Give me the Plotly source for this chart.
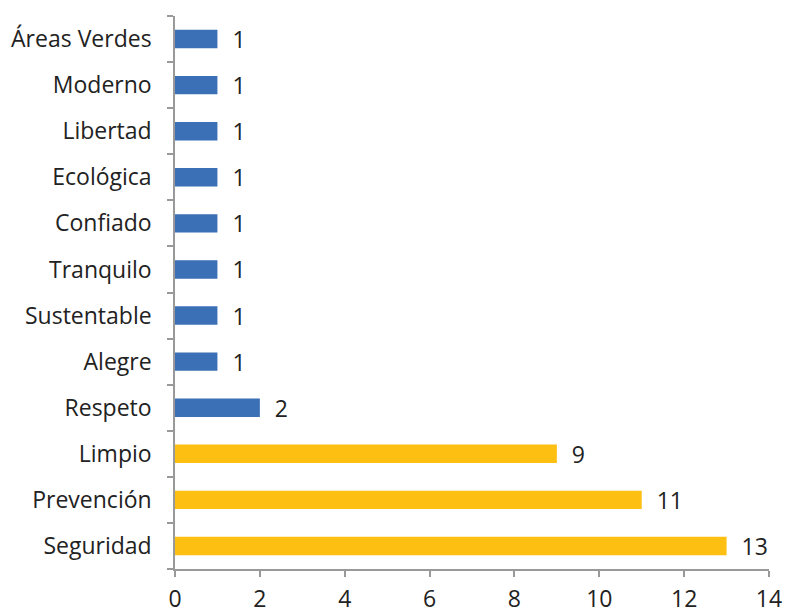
import plotly.graph_objects as go

# data (bottom to top)
categorias = ["Seguridad", "Prevención", "Limpio", "Respeto", "Alegre", "Sustentable",
              "Tranquilo", "Confiado", "Ecológica", "Libertad", "Moderno", "Áreas Verdes"]
valores = [13, 11, 9, 2, 1, 1, 1, 1, 1, 1, 1, 1]
colores = ["#FDBF12"] * 3 + ["#3B6FB6"] * 9

fig = go.Figure(go.Bar(
    y=categorias,
    x=valores,
    orientation="h",
    width=0.4,
    marker=dict(color=colores, line=dict(width=0)),
    text=["  " + str(v) for v in valores],
    textposition="outside",
    constraintext="none",
    cliponaxis=False,
    textfont=dict(size=23, color="#222222"),
))

# page body has an 8px margin, so the figure is a bit smaller than the window
fig.update_layout(
    width=775, height=605,
    margin=dict(l=167, r=14, t=8, b=44),
    plot_bgcolor="white", paper_bgcolor="white",
    font=dict(family="Open Sans", size=23, color="#222222"),
    showlegend=False,
    xaxis=dict(range=[0, 14], dtick=2, showgrid=False, zeroline=False,
               showline=True, linecolor="#999999", linewidth=1.5,
               ticks="outside", ticklen=6, tickcolor="#999999", tickwidth=1.5,
               ticklabelstandoff=3, automargin=False),
    yaxis=dict(showgrid=False, showline=True, linecolor="#999999", linewidth=1.5,
               ticks="outside", ticklen=6, tickcolor="#999999", tickwidth=1.5,
               tickson="boundaries", ticklabelstandoff=17, automargin=False),
)

fig.write_html("out.html")
